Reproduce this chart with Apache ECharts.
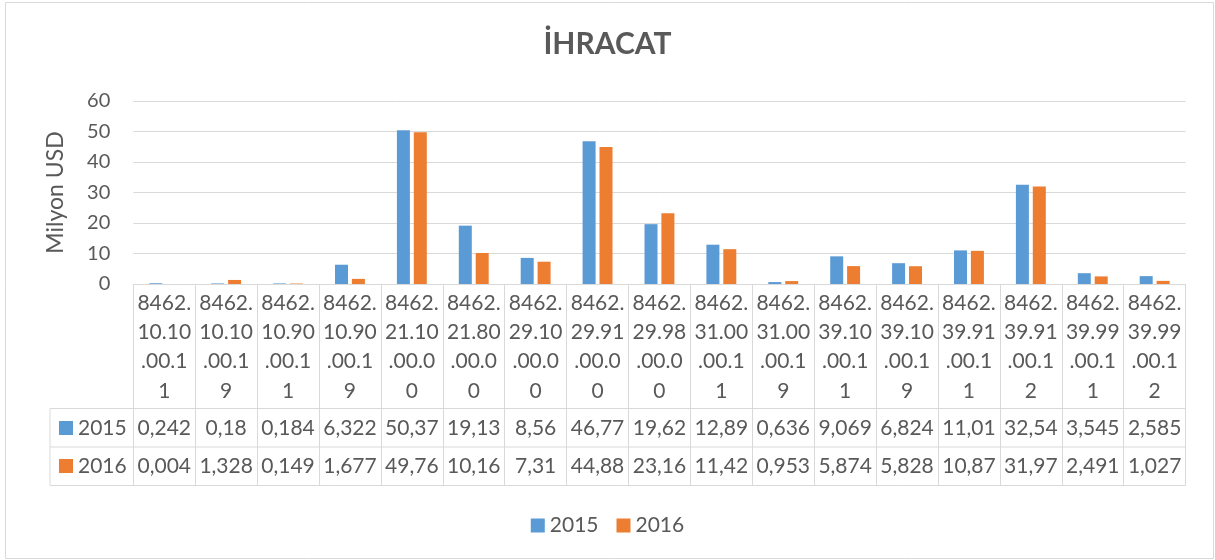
<!DOCTYPE html>
<html>
<head>
<meta charset="utf-8">
<script src="https://cdn.jsdelivr.net/npm/echarts@6/dist/echarts.min.js"></script>
<style>
  html, body { margin: 0; padding: 0; background: #fff; }
  #main { width: 1215px; height: 560px; }
</style>
</head>
<body>
<div id="main"></div>
<script>
var codes = [
    '8462.10.10.00.11', '8462.10.10.00.19', '8462.10.90.00.11', '8462.10.90.00.19',
    '8462.21.10.00.00', '8462.21.80.00.00', '8462.29.10.00.00', '8462.29.91.00.00',
    '8462.29.98.00.00', '8462.31.00.00.11', '8462.31.00.00.19', '8462.39.10.00.11',
    '8462.39.10.00.19', '8462.39.91.00.11', '8462.39.91.00.12', '8462.39.99.00.11',
    '8462.39.99.00.12'
];
var v2015 = [0.242, 0.18, 0.184, 6.322, 50.37, 19.13, 8.56, 46.77, 19.62, 12.89, 0.636, 9.069, 6.824, 11.01, 32.54, 3.545, 2.585];
var v2016 = [0.004, 1.328, 0.149, 1.677, 49.76, 10.16, 7.31, 44.88, 23.16, 11.42, 0.953, 5.874, 5.828, 10.87, 31.97, 2.491, 1.027];
var years = ['2015', '2016'];
var yTicks = { min: 0, max: 60, step: 10 };

var txt = '#595959';
var line = '#d9d9d9';
var font = 'Lato, "Open Sans", sans-serif';

// excel wraps the code every 5 characters
function wrap(s) {
    var out = [];
    for (var i = 0; i < s.length; i += 5) out.push(s.slice(i, i + 5));
    return out.join('\n');
}
function comma(v) {
    return String(v).replace('.', ',');
}

// table geometry
var gl = 133.3, gr = 1185.6, axisY = 284;
var rowA = 408.5, rowB = 447, rowC = 485.5, tabLeft = 50;

var dom = document.getElementById('main');
var myChart = echarts.init(dom);
var option = {
    backgroundColor: '#fff',
    textStyle: { fontFamily: font },
    title: {
        text: 'İHRACAT',
        left: 'center',
        top: 29,
        padding: 0,
        textStyle: { fontSize: 30, fontWeight: 'bold', color: txt, fontFamily: font }
    },
    color: ['#5b9bd5', '#ed7d31'],
    legend: [{
        data: years,
        left: 'center',
        top: 510,
        itemWidth: 14,
        itemHeight: 14,
        itemGap: 18,
        icon: 'rect',
        textStyle: { fontSize: 21, color: txt, fontFamily: font }
    }, {
        data: years,
        orient: 'vertical',
        left: 59,
        top: 416,
        itemWidth: 14,
        itemHeight: 14,
        itemGap: 14,
        icon: 'rect',
        padding: 0,
        textStyle: { fontSize: 21, lineHeight: 24, color: txt, fontFamily: font }
    }],
    grid: {
        left: gl,
        right: 1215 - gr,
        top: 101,
        bottom: 560 - axisY,
        containLabel: false,
        outerBoundsMode: 'none'
    },
    xAxis: [{
        type: 'category',
        data: codes,
        position: 'bottom',
        axisLine: { lineStyle: { color: line, width: 1 } },
        axisTick: { show: true, length: rowC - axisY, lineStyle: { color: line } },
        axisLabel: {
            interval: 0,
            margin: 63,
            verticalAlign: 'middle',
            lineHeight: 29.3,
            fontSize: 21,
            color: txt,
            fontFamily: font,
            formatter: function (v) { return wrap(v); }
        }
    }, {
        type: 'category',
        data: codes,
        position: 'bottom',
        axisLine: { show: false },
        axisTick: { show: false },
        axisLabel: {
            interval: 0,
            margin: 144,
            verticalAlign: 'middle',
            fontSize: 21,
            color: txt,
            fontFamily: font,
            formatter: function (v, i) { return comma(v2015[i]); }
        }
    }, {
        type: 'category',
        data: codes,
        position: 'bottom',
        axisLine: { show: false },
        axisTick: { show: false },
        axisLabel: {
            interval: 0,
            margin: 182,
            verticalAlign: 'middle',
            fontSize: 21,
            color: txt,
            fontFamily: font,
            formatter: function (v, i) { return comma(v2016[i]); }
        }
    }],
    yAxis: {
        type: 'value',
        min: yTicks.min,
        max: yTicks.max,
        interval: yTicks.step,
        name: 'Milyon USD',
        nameLocation: 'middle',
        nameGap: 66,
        nameTextStyle: { fontSize: 23, color: txt, fontFamily: font },
        axisLine: { show: false },
        axisTick: { show: false },
        axisLabel: { fontSize: 20, color: txt, margin: 23, fontFamily: font },
        splitLine: { lineStyle: { color: line, width: 1 } }
    },
    series: [{
        name: '2015',
        type: 'bar',
        barWidth: 13,
        barGap: '30%',
        data: v2015
    }, {
        name: '2016',
        type: 'bar',
        barWidth: 13,
        barGap: '30%',
        data: v2016
    }],
    graphic: [
        { type: 'rect', silent: true, shape: { x: 5.5, y: 2.5, width: 1208, height: 556 },
          style: { fill: 'none', stroke: line, lineWidth: 1 } },
        { type: 'line', silent: true, shape: { x1: tabLeft, y1: rowA, x2: gr, y2: rowA }, style: { stroke: line, lineWidth: 1 } },
        { type: 'line', silent: true, shape: { x1: tabLeft, y1: rowB, x2: gr, y2: rowB }, style: { stroke: line, lineWidth: 1 } },
        { type: 'line', silent: true, shape: { x1: tabLeft, y1: rowC, x2: gr, y2: rowC }, style: { stroke: line, lineWidth: 1 } },
        { type: 'line', silent: true, shape: { x1: tabLeft, y1: rowA, x2: tabLeft, y2: rowC }, style: { stroke: line, lineWidth: 1 } }
    ]
};
if (option && typeof option === "object") {
    myChart.setOption(option, true);
}
</script>
</body>
</html>
